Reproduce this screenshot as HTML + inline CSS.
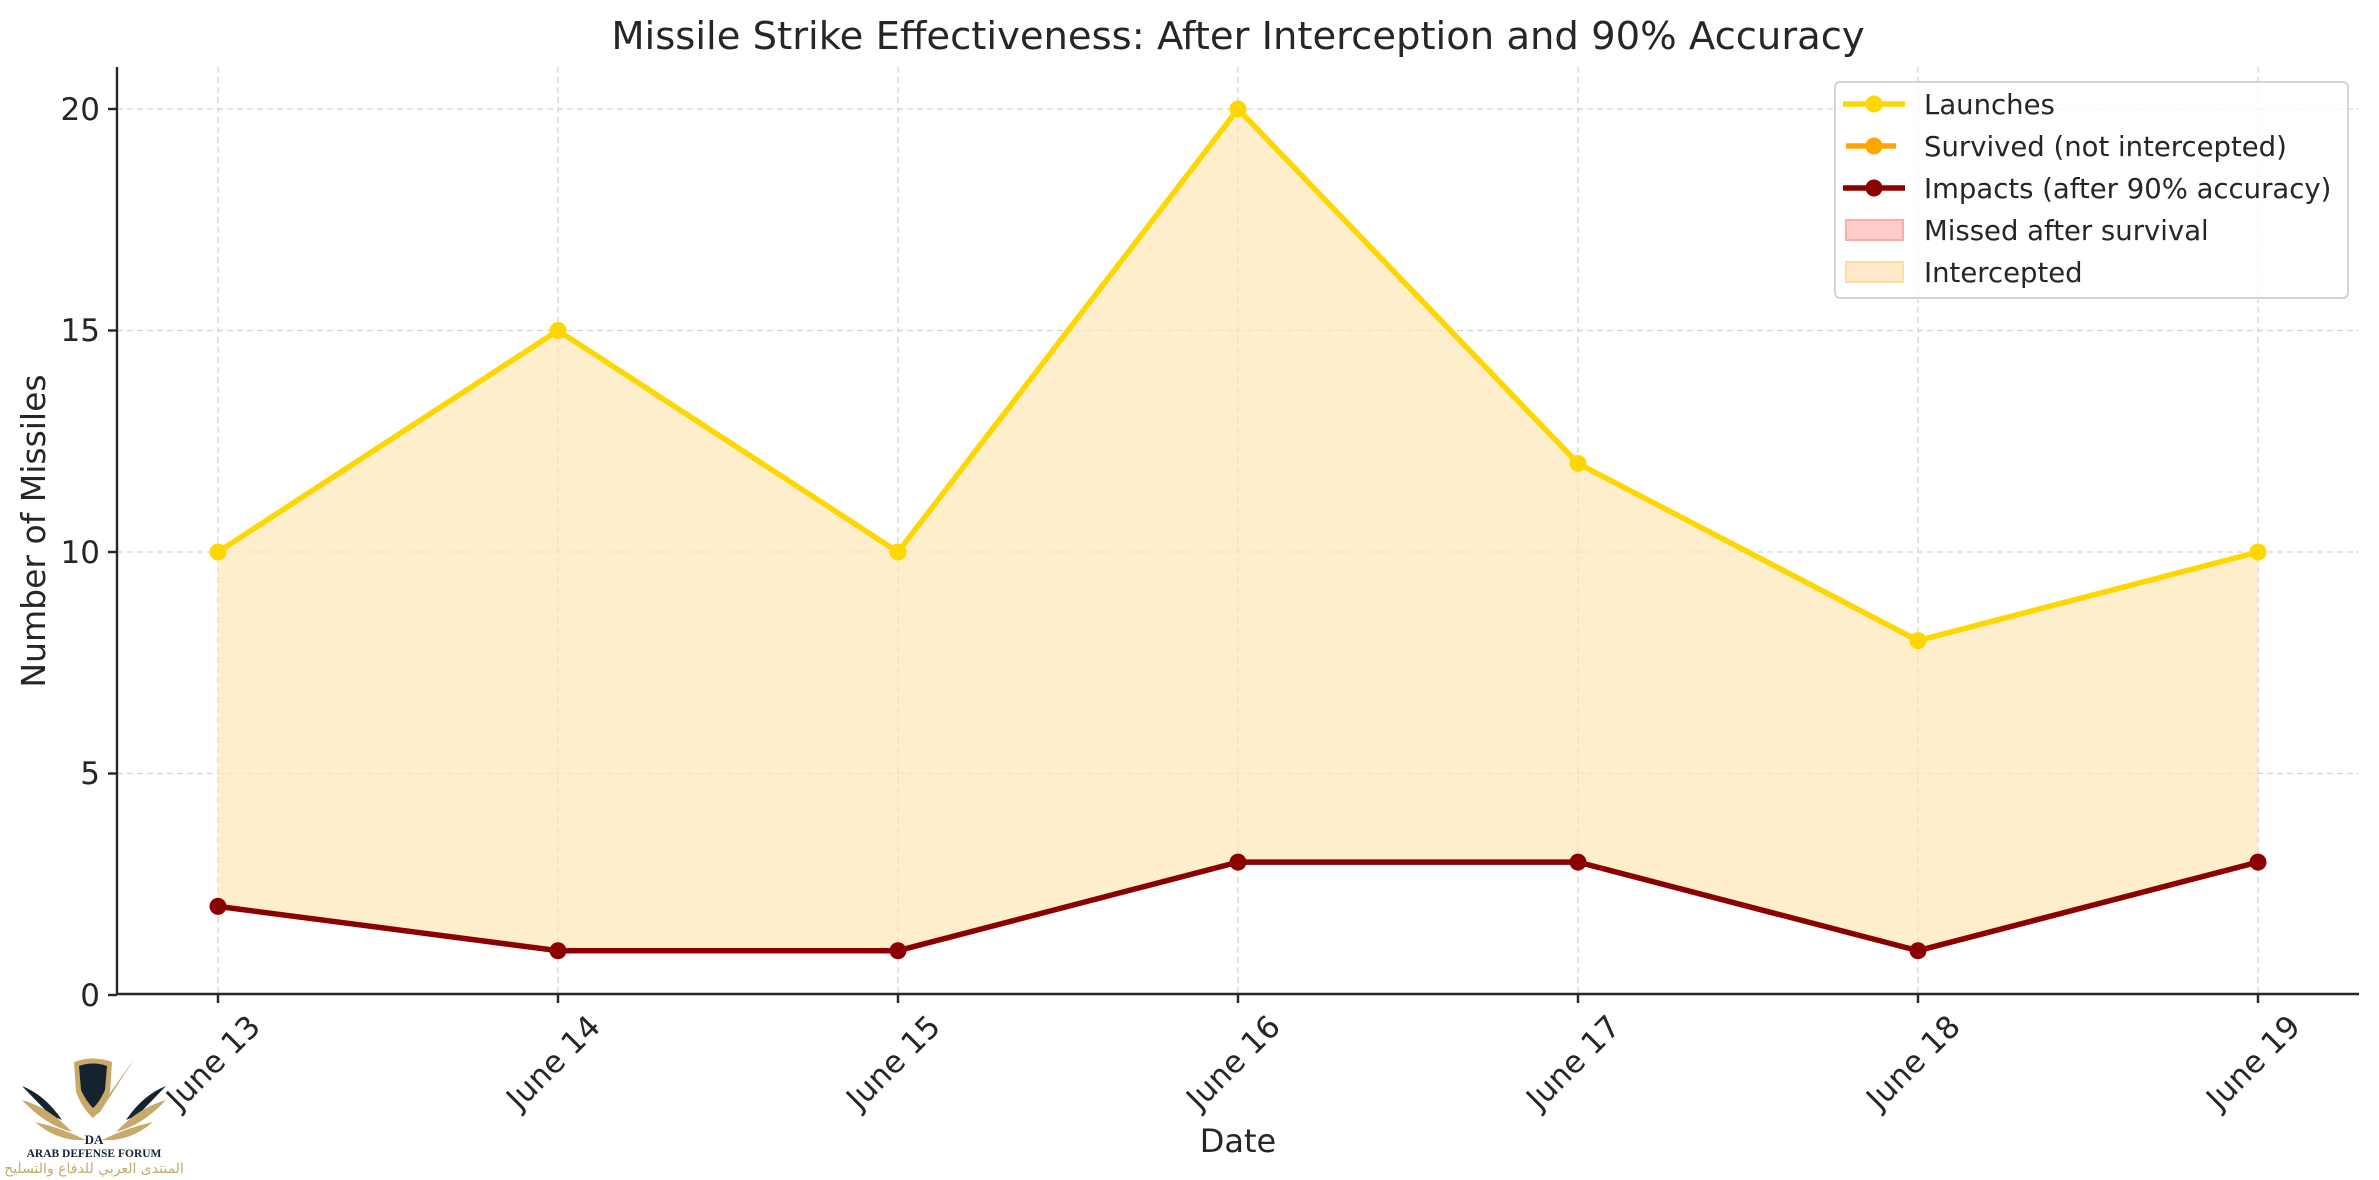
<!DOCTYPE html>
<html><head><meta charset="utf-8"><style>
html,body{margin:0;padding:0;background:#fff;}
svg{display:block;}
text{font-family:"DejaVu Sans","Liberation Sans",sans-serif;fill:#262626;}
</style></head><body>
<svg width="2379" height="1180" viewBox="0 0 2379 1180" xmlns="http://www.w3.org/2000/svg">
<rect width="2379" height="1180" fill="#fff"/>
<g stroke="#d3d3d3" stroke-width="1.3" stroke-dasharray="6,4">
<line x1="117" x2="2359" y1="109" y2="109"/>
<line x1="117" x2="2359" y1="330.5" y2="330.5"/>
<line x1="117" x2="2359" y1="552" y2="552"/>
<line x1="117" x2="2359" y1="773.5" y2="773.5"/>
<line x1="218" x2="218" y1="67" y2="995"/>
<line x1="558" x2="558" y1="67" y2="995"/>
<line x1="898" x2="898" y1="67" y2="995"/>
<line x1="1238" x2="1238" y1="67" y2="995"/>
<line x1="1578" x2="1578" y1="67" y2="995"/>
<line x1="1918" x2="1918" y1="67" y2="995"/>
<line x1="2258" x2="2258" y1="67" y2="995"/>
</g>
<polygon fill="#ffe6b3" fill-opacity="0.68" points="218,552 558,330.5 898,552 1238,109 1578,463.4 1918,640.6 2258,552 2258,862.1 1918,950.7 1578,862.1 1238,862.1 898,950.7 558,950.7 218,906.4"/>
<polyline fill="none" stroke="#ffd700" stroke-width="5.5" stroke-linejoin="round" points="218,552 558,330.5 898,552 1238,109 1578,463.4 1918,640.6 2258,552"/>
<g fill="#ffd700">
<circle cx="218" cy="552" r="8.5"/><circle cx="558" cy="330.5" r="8.5"/><circle cx="898" cy="552" r="8.5"/><circle cx="1238" cy="109" r="8.5"/><circle cx="1578" cy="463.4" r="8.5"/><circle cx="1918" cy="640.6" r="8.5"/><circle cx="2258" cy="552" r="8.5"/>
</g>
<polyline fill="none" stroke="#8b0000" stroke-width="5.5" stroke-linejoin="round" points="218,906.4 558,950.7 898,950.7 1238,862.1 1578,862.1 1918,950.7 2258,862.1"/>
<g fill="#8b0000">
<circle cx="218" cy="906.4" r="8.5"/><circle cx="558" cy="950.7" r="8.5"/><circle cx="898" cy="950.7" r="8.5"/><circle cx="1238" cy="862.1" r="8.5"/><circle cx="1578" cy="862.1" r="8.5"/><circle cx="1918" cy="950.7" r="8.5"/><circle cx="2258" cy="862.1" r="8.5"/>
</g>
<g stroke="#262626" stroke-width="2.4">
<line x1="117" y1="67" x2="117" y2="994"/>
<line x1="116" y1="994" x2="2359" y2="994"/>
<line x1="108" x2="117" y1="109" y2="109"/>
<line x1="108" x2="117" y1="330.5" y2="330.5"/>
<line x1="108" x2="117" y1="552" y2="552"/>
<line x1="108" x2="117" y1="773.5" y2="773.5"/>
<line x1="108" x2="117" y1="995" y2="995"/>
<line x1="218" x2="218" y1="994" y2="1003"/>
<line x1="558" x2="558" y1="994" y2="1003"/>
<line x1="898" x2="898" y1="994" y2="1003"/>
<line x1="1238" x2="1238" y1="994" y2="1003"/>
<line x1="1578" x2="1578" y1="994" y2="1003"/>
<line x1="1918" x2="1918" y1="994" y2="1003"/>
<line x1="2258" x2="2258" y1="994" y2="1003"/>
</g>
<g font-size="31" text-anchor="end">
<text x="100" y="120">20</text>
<text x="100" y="341">15</text>
<text x="100" y="563">10</text>
<text x="100" y="784">5</text>
<text x="100" y="1006">0</text>
</g>
<g font-size="31" text-anchor="middle">
<text transform="translate(213,1062) rotate(-45)" y="11">June 13</text>
<text transform="translate(553,1062) rotate(-45)" y="11">June 14</text>
<text transform="translate(893,1062) rotate(-45)" y="11">June 15</text>
<text transform="translate(1233,1062) rotate(-45)" y="11">June 16</text>
<text transform="translate(1573,1062) rotate(-45)" y="11">June 17</text>
<text transform="translate(1913,1062) rotate(-45)" y="11">June 18</text>
<text transform="translate(2253,1062) rotate(-45)" y="11">June 19</text>
</g>
<text x="1238" y="1152" font-size="32" text-anchor="middle">Date</text>
<text transform="translate(45,531) rotate(-90)" font-size="33" text-anchor="middle">Number of Missiles</text>
<text x="1238" y="49" font-size="38.5" text-anchor="middle" fill="#333">Missile Strike Effectiveness: After Interception and 90% Accuracy</text>
<rect x="1835" y="82" width="513" height="216" rx="5" fill="#fff" fill-opacity="0.8" stroke="#d4d4d4" stroke-width="2"/>
<line x1="1843" x2="1905" y1="104" y2="104" stroke="#ffd700" stroke-width="5.5"/><circle cx="1874" cy="104" r="8.5" fill="#ffd700"/>
<line x1="1846" x2="1896" y1="146" y2="146" stroke="#ffa500" stroke-width="5.5"/><circle cx="1874" cy="146" r="8.5" fill="#ffa500"/>
<line x1="1843" x2="1905" y1="188" y2="188" stroke="#8b0000" stroke-width="5.5"/><circle cx="1874" cy="188" r="8.5" fill="#8b0000"/>
<rect x="1846" y="220" width="57" height="20" fill="#ffcccc" stroke="#ffaaaa" stroke-width="2"/>
<rect x="1846" y="262" width="57" height="20" fill="#ffebcc" stroke="#ffdca0" stroke-width="2"/>
<g font-size="27.5">
<text x="1924" y="114">Launches</text>
<text x="1924" y="156">Survived (not intercepted)</text>
<text x="1924" y="198">Impacts (after 90% accuracy)</text>
<text x="1924" y="240">Missed after survival</text>
<text x="1924" y="282">Intercepted</text>
</g>
<g>
<path d="M74,1062 Q93,1055 112,1062 L110,1092 Q100,1112 93,1118 Q82,1108 76,1092 Z" fill="#c8a96a"/>
<path d="M79,1066 Q93,1061 107,1066 L105,1090 Q99,1103 93,1108 Q86,1101 81,1090 Z" fill="#14232e"/>
<path d="M92,1118 L135,1058 L100,1112 Z" fill="#c8a96a"/>
<path d="M22,1086 Q45,1095 62,1120 L50,1115 Z" fill="#14232e"/>
<path d="M22,1100 Q50,1108 72,1132 Q45,1125 22,1100 Z" fill="#c8a96a"/>
<path d="M35,1122 Q62,1128 86,1140 Q58,1142 35,1122 Z" fill="#c8a96a"/>
<path d="M166,1086 Q143,1095 126,1120 L138,1115 Z" fill="#14232e"/>
<path d="M166,1100 Q138,1108 116,1132 Q143,1125 166,1100 Z" fill="#c8a96a"/>
<path d="M153,1122 Q126,1128 102,1140 Q130,1142 153,1122 Z" fill="#c8a96a"/>
<text x="94" y="1144" font-size="13" font-weight="bold" text-anchor="middle" style="font-family:'Liberation Serif',serif;fill:#14232e">DA</text>
<text x="94" y="1157" font-size="11.5" font-weight="bold" text-anchor="middle" style="font-family:'Liberation Serif',serif;fill:#14232e">ARAB DEFENSE FORUM</text>
<text x="94" y="1173" font-size="14" text-anchor="middle" style="fill:#c8a96a">المنتدى العربي للدفاع والتسليح</text>
</g>
</svg>
</body></html>
